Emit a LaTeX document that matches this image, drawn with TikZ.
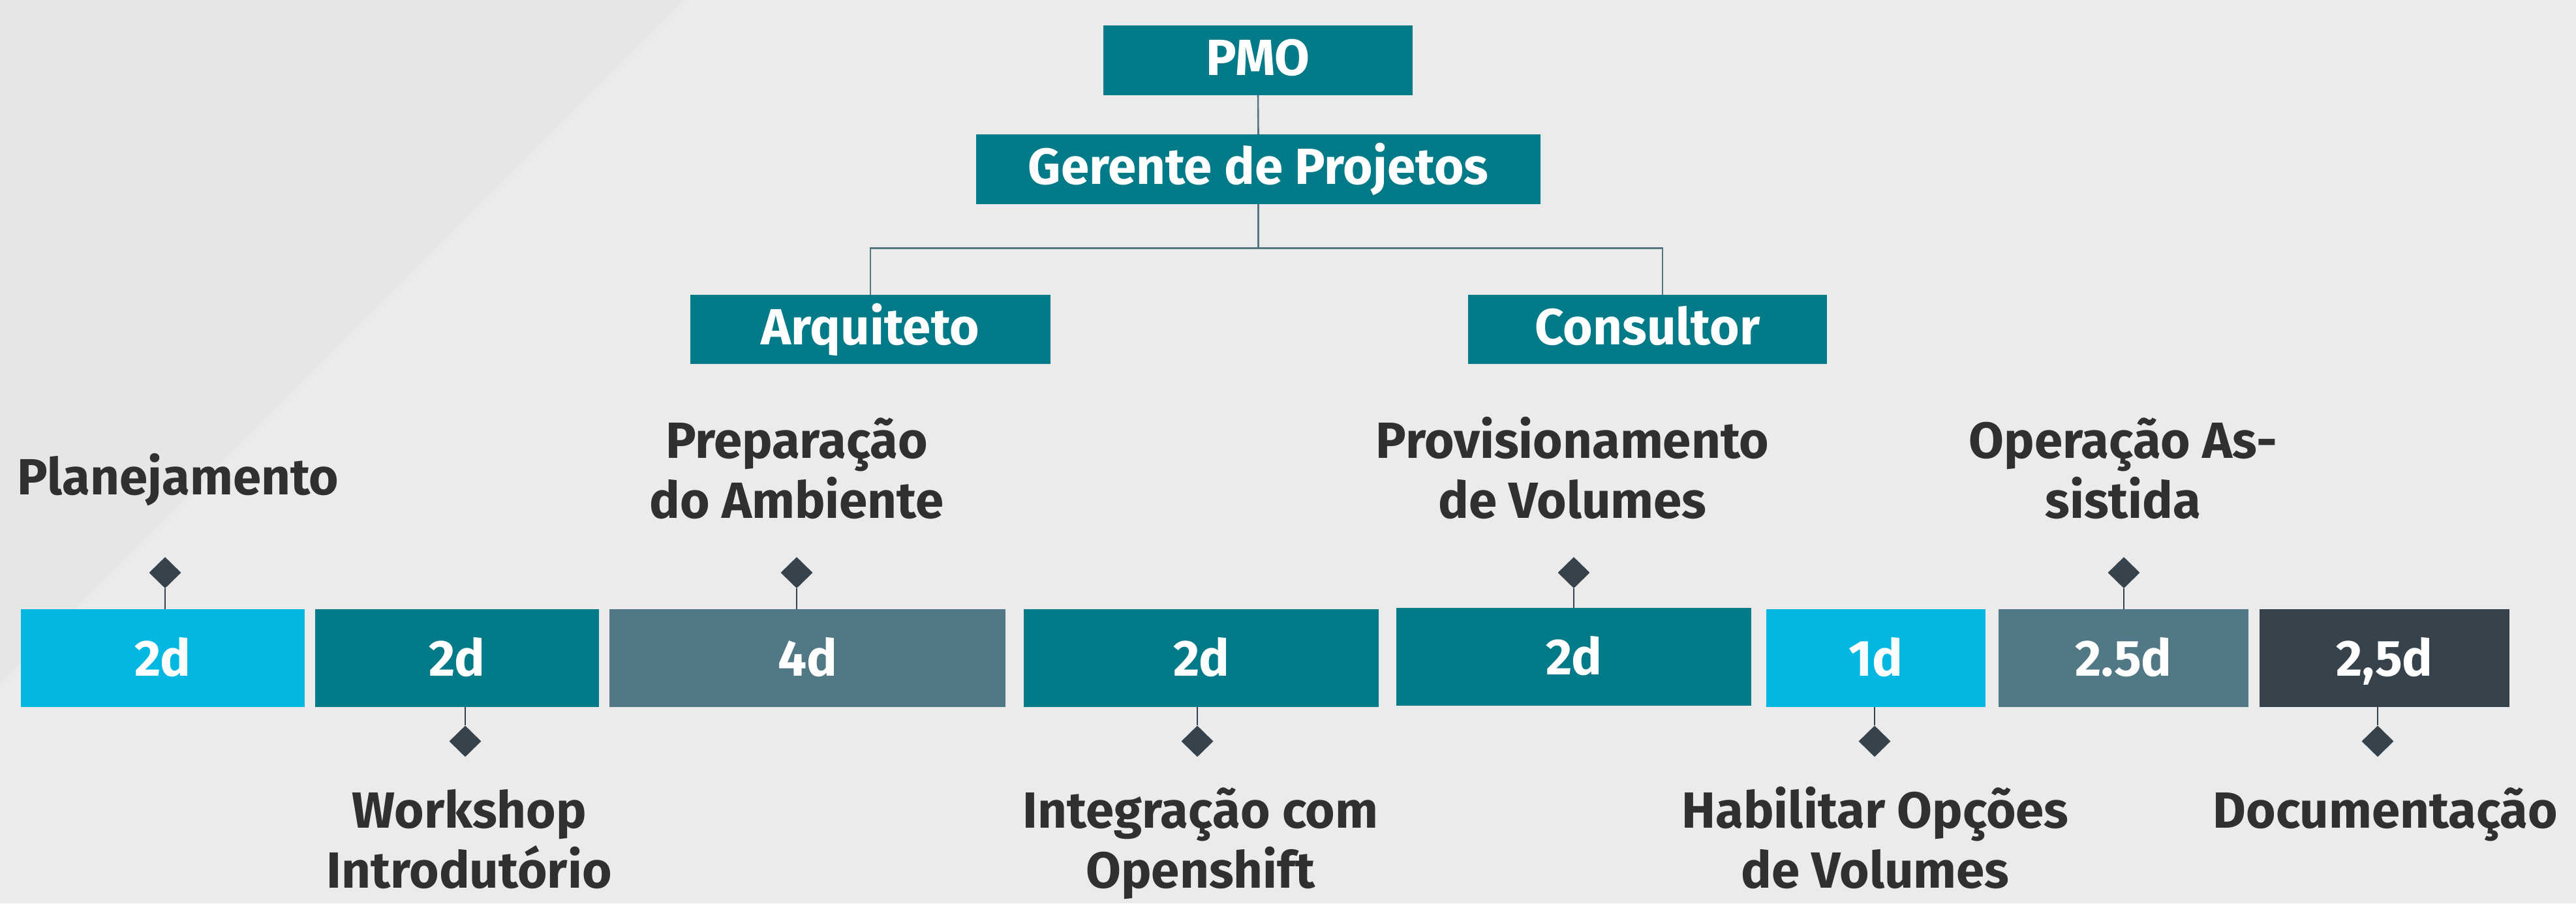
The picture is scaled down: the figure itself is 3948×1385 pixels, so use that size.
\documentclass[tikz,border=0pt]{standalone}
\usepackage{fontspec}
\setmainfont{Fira Sans}
\usetikzlibrary{shapes.geometric}
\definecolor{bgl}{HTML}{EBEBEB}
\definecolor{bgd}{HTML}{E6E6E4}
\definecolor{teal}{HTML}{037A87}
\definecolor{sky}{HTML}{02B8E3}
\definecolor{slate}{HTML}{507985}
\definecolor{ink}{HTML}{36434C}
\definecolor{txt}{HTML}{303030}
\definecolor{conn}{HTML}{557580}
\tikzset{
  every node/.style={font=\fontsize{78}{92}\selectfont\bfseries},
  role/.style={fill=teal, text=white, inner sep=0pt, text height=54pt, text depth=8pt},
  bar/.style={text=white, inner sep=0pt, minimum height=150pt, text height=54pt, text depth=0pt},
  ms/.style={diamond, fill=ink, inner sep=0pt, minimum width=49pt, minimum height=48pt},
  lbl/.style={text=txt, align=center, anchor=base, inner sep=0pt},
  orgline/.style={draw=conn, line width=2.6pt},
  stem/.style={draw=ink, line width=2pt}
}
\begin{document}
\begin{tikzpicture}[x=1pt,y=-1pt]
\useasboundingbox (0,0) rectangle (3948,1385);
\fill[bgl] (0,0) rectangle (3948,1385);
\fill[bgd] (0,0) -- (1049,0) -- (0,1049) -- cycle;
% org chart
\node[role, minimum width=474pt, minimum height=107pt] (pmo) at (1928,92.5) {PMO};
\node[role, minimum width=865pt, minimum height=107pt] (gp) at (1928.5,259.5) {Gerente de Projetos};
\node[role, minimum width=552pt, minimum height=106pt] (arq) at (1334,505) {Arquiteto};
\node[role, minimum width=550pt, minimum height=106pt] (con) at (2525,505) {Consultor};
\coordinate (conj) at ([xshift=23pt]con.north);
\draw[orgline] (pmo.south) -- (gp.north);
\draw[orgline] (gp.south) -- ++(0,67) coordinate (fork);
\draw[orgline] (arq.north) |- (fork) -| (conj);
% bars
\node[bar, fill=sky,   minimum width=435pt] (b1) at (249.5,1009) {2d};
\node[bar, fill=teal,  minimum width=435pt] (b2) at (700.5,1009) {2d};
\node[bar, fill=slate, minimum width=607pt] (b3) at (1237.5,1009) {4d};
\node[bar, fill=teal,  minimum width=544pt] (b4) at (1841,1009) {2d};
\node[bar, fill=teal,  minimum width=544pt] (b5) at (2412,1007) {2d};
\node[bar, fill=sky,   minimum width=336pt] (b6) at (2875,1009) {1d};
\node[bar, fill=slate, minimum width=383pt] (b7) at (3254.5,1009) {2.5d};
\node[bar, fill=ink,   minimum width=383pt] (b8) at (3654.5,1009) {2,5d};
% milestones
\node[ms] (m1) at (253,878) {};
\node[ms] (m3) at (1221,878) {};
\node[ms] (m5) at (2412,878) {};
\node[ms] (m7) at (3255,878) {};
\node[ms] (m2) at (713,1136.5) {};
\node[ms] (m4) at (1835,1136.5) {};
\node[ms] (m6) at (2873,1136.5) {};
\node[ms] (m8) at (3644,1136.5) {};
\draw[stem] (m1.south) -- (m1.south |- b1.north);
\draw[stem] (m3.south) -- (m3.south |- b3.north);
\draw[stem] (m5.south) -- (m5.south |- b5.north);
\draw[stem] (m7.south) -- (m7.south |- b7.north);
\draw[stem] (m2.north) -- (m2.north |- b2.south);
\draw[stem] (m4.north) -- (m4.north |- b4.south);
\draw[stem] (m6.north) -- (m6.north |- b6.south);
\draw[stem] (m8.north) -- (m8.north |- b8.south);
% labels (anchor base = baseline of the last line)
\node[lbl] (l1) at (273,758) {Planejamento};
\node[lbl] (l3) at (1221,794) {Preparação\\do Ambiente};
\node[lbl] (l5) at (2410,794) {Provisionamento\\de Volumes};
\node[lbl] (l7) at (3254,794) {Operação As-\\sistida};
\node[lbl] (l2) at (719,1361) {Workshop\\Introdutório};
\node[lbl] (l4) at (1840,1361) {Integração com\\Openshift};
\node[lbl] (l6) at (2874,1361) {Habilitar Opções\\de Volumes};
\node[lbl] (l8) at (3656,1269) {Documentação};
\end{tikzpicture}
\end{document}
